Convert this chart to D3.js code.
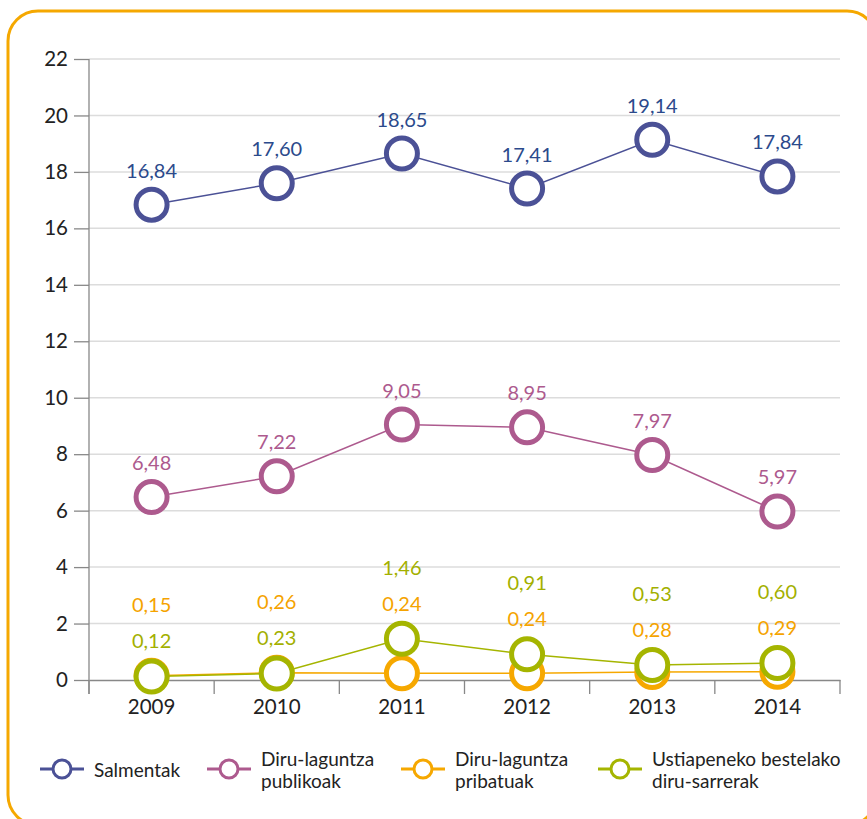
<!DOCTYPE html>
<html lang="eu">
<head>
  <meta charset="UTF-8">
  <title>Diru-sarrerak</title>
  <style>
    body { margin: 0; background: #fff; }
    svg text { font-family: Lato, "Open Sans", sans-serif; }
    .tick text { font-size: 20.5px; fill: #222; }
    .lbl { font-size: 20px; }
    .leg { font-size: 19px; fill: #222; }
  </style>
</head>
<body>
<div id="chart"></div>
<script src="https://cdn.jsdelivr.net/npm/d3@7"></script>
<script>
// datuak
let years = ['2009', '2010', '2011', '2012', '2013', '2014']
let salmentak = [16.84, 17.60, 18.65, 17.41, 19.14, 17.84]
let publikoak = [6.48, 7.22, 9.05, 8.95, 7.97, 5.97]
let pribatuak = [0.15, 0.26, 0.24, 0.24, 0.28, 0.29]
let bestelakoak = [0.12, 0.23, 1.46, 0.91, 0.53, 0.60]
let yTicks = [0, 2, 4, 6, 8, 10, 12, 14, 16, 18, 20, 22]
let seriesNames = [['Salmentak'], ['Diru-laguntza', 'publikoak'], ['Diru-laguntza', 'pribatuak'], ['Ustiapeneko bestelako', 'diru-sarrerak']]

let width = 867
let height = 819
let pLeft = 89, pRight = 840, pTop = 59, pBottom = 680

let colors = ['#4b5196', '#ad5a8e', '#f6a800', '#a5b500']
let labelColors = ['#2b4a8c', '#ad5a8e', '#f5a300', '#a3b000']

let svg = d3.select('#chart').append('svg').attr('width', width).attr('height', height)

// ertz laranja
svg.append('rect')
  .attr('x', 8).attr('y', 11).attr('width', 869).attr('height', 814)
  .attr('rx', 30).attr('ry', 30)
  .attr('fill', 'none').attr('stroke', '#f5a800').attr('stroke-width', 3)

let x = d3.scaleBand().domain(years).range([pLeft, pRight])
let y = d3.scaleLinear().domain([0, 22]).range([pBottom, pTop])

// sareta
svg.append('g').selectAll('line').data(yTicks.filter(d => d > 0)).join('line')
  .attr('x1', pLeft).attr('x2', pRight)
  .attr('y1', d => y(d)).attr('y2', d => y(d))
  .attr('stroke', '#dcdcdc').attr('stroke-width', 1.5)

// Y ardatza
let yAxis = svg.append('g').attr('transform', 'translate(' + pLeft + ',0)')
  .call(d3.axisLeft(y).tickValues(yTicks).tickSize(15).tickPadding(6))
yAxis.select('.domain').remove()
yAxis.selectAll('.tick line').attr('stroke', '#888').attr('stroke-width', 1.3)
svg.append('line').attr('x1', pLeft).attr('x2', pLeft).attr('y1', pTop).attr('y2', pBottom + 14)
  .attr('stroke', '#888').attr('stroke-width', 1.3)

// X ardatza
let xAxis = svg.append('g').attr('transform', 'translate(0,' + pBottom + ')')
  .call(d3.axisBottom(x).tickSize(0).tickPadding(19))
xAxis.select('.domain').attr('stroke', '#888').attr('stroke-width', 1.3)
xAxis.selectAll('.tick text').attr('dy', '0.71em')
let bounds = years.map(d => x(d)).concat([pRight])
svg.append('g').selectAll('line').data(bounds).join('line')
  .attr('x1', d => d).attr('x2', d => d)
  .attr('y1', pBottom).attr('y2', pBottom + 14)
  .attr('stroke', '#888').attr('stroke-width', 1.3)

let cx = d => x(d) + x.bandwidth() / 2
let fmt = v => v.toFixed(2).replace('.', ',')

let allSeries = [salmentak, publikoak, pribatuak, bestelakoak]
let line = d3.line().x((d, i) => cx(years[i])).y(d => y(d))

allSeries.forEach((vals, s) => {
  let g = svg.append('g')
  g.append('path').datum(vals).attr('d', line)
    .attr('fill', 'none').attr('stroke', colors[s]).attr('stroke-width', 1.5)
  g.selectAll('circle').data(vals).join('circle')
    .attr('cx', (d, i) => cx(years[i])).attr('cy', d => y(d))
    .attr('r', 15.5).attr('fill', '#fff')
    .attr('stroke', colors[s]).attr('stroke-width', 5)
})

// balio etiketak
function label(s, i, yc) {
  svg.append('text').attr('class', 'lbl')
    .attr('x', cx(years[i])).attr('y', yc).attr('dy', '0.35em')
    .attr('text-anchor', 'middle').attr('fill', labelColors[s])
    .text(fmt(allSeries[s][i]))
}
years.forEach((yr, i) => {
  label(0, i, y(salmentak[i]) - 34)
  label(1, i, y(publikoak[i]) - 34)
  let topY = Math.min(y(pribatuak[i]), y(bestelakoak[i]))
  let hi = pribatuak[i] > bestelakoak[i] ? 2 : 3
  let lo = hi === 2 ? 3 : 2
  label(hi, i, topY - 71)
  label(lo, i, topY - 35)
})

// legenda
let legX = [40, 207, 401, 598]
let leg = svg.append('g')
seriesNames.forEach((name, s) => {
  let lx = legX[s]
  let ly = 769
  leg.append('line').attr('x1', lx).attr('x2', lx + 44).attr('y1', ly).attr('y2', ly)
    .attr('stroke', colors[s]).attr('stroke-width', 3)
  leg.append('circle').attr('cx', lx + 22).attr('cy', ly).attr('r', 9)
    .attr('fill', '#fff').attr('stroke', colors[s]).attr('stroke-width', 3)
  let t = leg.append('text').attr('class', 'leg').attr('x', lx + 54)
  if (name.length === 1) {
    t.attr('y', ly + 8).text(name[0])
  } else {
    t.selectAll('tspan').data(name).join('tspan')
      .attr('x', lx + 54).attr('y', (d, k) => ly - 3 + k * 22).text(d => d)
  }
})
</script>
</body>
</html>
